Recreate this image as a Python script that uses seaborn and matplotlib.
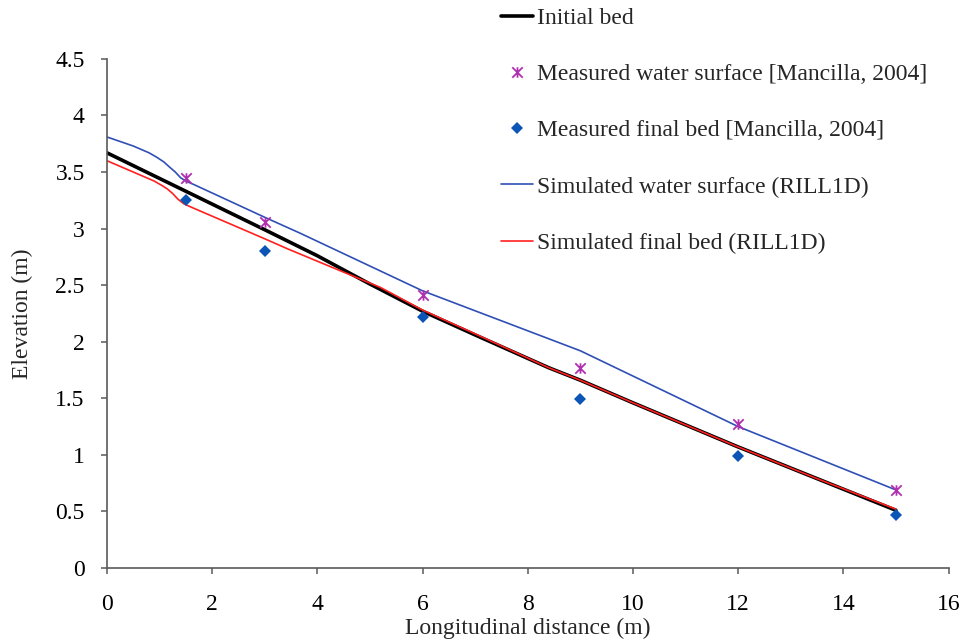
import numpy as np
import pandas as pd
import seaborn as sns
import matplotlib
matplotlib.use("Agg")
import matplotlib.pyplot as plt
from matplotlib.path import Path
from matplotlib.ticker import FuncFormatter, MultipleLocator

# Initial bed profile
initial_x = [0, 1.5, 3, 4, 5, 6, 7, 8.4, 9, 10, 12, 13.5, 15]
initial_z = [3.67, 3.33, 2.99, 2.76, 2.51, 2.27, 2.06, 1.77, 1.66, 1.46, 1.07, 0.79, 0.51]

# Simulated water surface (RILL1D)
sim_ws_x = [0, 0.5, 0.8, 0.95, 1.08, 1.2, 1.3, 1.4, 1.5, 1.65, 3, 3.67, 6, 9, 12, 15]
sim_ws_z = [3.81, 3.73, 3.67, 3.63, 3.59, 3.54, 3.50, 3.45, 3.42, 3.39, 3.10, 2.96, 2.45, 1.92, 1.25, 0.69]

# Simulated final bed (RILL1D)
sim_bed_x = [0, 0.5, 0.9, 1.05, 1.15, 1.25, 1.35, 1.46, 1.6, 3, 3.44, 5.2, 6, 7, 8.4, 9, 10, 12, 13.5, 15]
sim_bed_z = [3.60, 3.50, 3.42, 3.38, 3.35, 3.31, 3.26, 3.22, 3.19, 2.91, 2.82, 2.48, 2.28, 2.07, 1.77, 1.66, 1.46, 1.07, 0.79, 0.52]

# Measured data [Mancilla, 2004]
meas_x = [1.5, 3, 6, 9, 12, 15]
meas_ws_z = [3.45, 3.06, 2.41, 1.77, 1.27, 0.69]
meas_bed_z = [3.25, 2.80, 2.22, 1.49, 0.99, 0.47]

labels = [
    "Initial bed",
    "Measured water surface [Mancilla, 2004]",
    "Measured final bed [Mancilla, 2004]",
    "Simulated water surface (RILL1D)",
    "Simulated final bed (RILL1D)",
]

sns.set_theme(style="white")
plt.rcParams["font.family"] = ["Liberation Serif", "DejaVu Serif"]

fig = plt.figure(figsize=(9.63, 6.4), dpi=100)
ax = fig.add_axes([0.111, 0.1125, 0.874, 0.7955])

df_init = pd.DataFrame({"x": initial_x, "z": initial_z})
df_ws = pd.DataFrame({"x": sim_ws_x, "z": sim_ws_z})
df_bed = pd.DataFrame({"x": sim_bed_x, "z": sim_bed_z})

sns.lineplot(data=df_init, x="x", y="z", ax=ax, color="black", linewidth=2.6,
             sort=False, estimator=None, label=labels[0])
sns.lineplot(data=df_ws, x="x", y="z", ax=ax, color="#2f4fb5", linewidth=1.2,
             sort=False, estimator=None, label=labels[3])
sns.lineplot(data=df_bed, x="x", y="z", ax=ax, color="#ff2020", linewidth=1.2,
             sort=False, estimator=None, label=labels[4])

# Asterisk-style marker: an X crossed by a vertical stroke
star = Path(
    [(-1, -1), (1, 1), (-1, 1), (1, -1), (0, -1), (0, 1)],
    [Path.MOVETO, Path.LINETO, Path.MOVETO, Path.LINETO, Path.MOVETO, Path.LINETO],
)
ax.plot(meas_x, meas_ws_z, linestyle="none", marker=star, markersize=7.5,
        markeredgewidth=1.3, color="#b030b0", label=labels[1])
ax.plot(meas_x, meas_bed_z, linestyle="none", marker="D", markersize=6,
        color="#0a55b5", markeredgewidth=0, label=labels[2])

ax.set_xlim(0, 16)
ax.set_ylim(0, 4.5)
ax.xaxis.set_major_locator(MultipleLocator(2))
ax.yaxis.set_major_locator(MultipleLocator(0.5))
ax.yaxis.set_major_formatter(FuncFormatter(lambda v, p: f"{v:g}"))
ax.xaxis.set_major_formatter(FuncFormatter(lambda v, p: f"{v:g}"))

for side in ("top", "right"):
    ax.spines[side].set_visible(False)
for side in ("left", "bottom"):
    ax.spines[side].set_color("#5a5a5a")
    ax.spines[side].set_linewidth(1.2)

ax.tick_params(axis="both", direction="out", length=4.5, width=1.1,
               color="#5a5a5a", labelsize=17, labelcolor="black")
ax.tick_params(axis="x", pad=14)
ax.tick_params(axis="y", pad=11.5)
ax.tick_params(bottom=True, left=True)

ax.set_xlabel("Longitudinal distance (m)", fontsize=17, labelpad=2)
ax.set_ylabel("Elevation (m)", fontsize=17, labelpad=16)

handles, labs = ax.get_legend_handles_labels()
hmap = dict(zip(labs, handles))
if ax.get_legend() is not None:
    ax.get_legend().remove()
fig.legend([hmap[l] for l in labels], labels, loc="upper left",
           bbox_to_anchor=(0.518, 0.992), bbox_transform=fig.transFigure,
           frameon=False, fontsize=17, handlelength=1.35, handletextpad=0.15,
           labelspacing=1.47, borderpad=0.1, borderaxespad=0)

fig.savefig("out.png", dpi=100, facecolor="white")
